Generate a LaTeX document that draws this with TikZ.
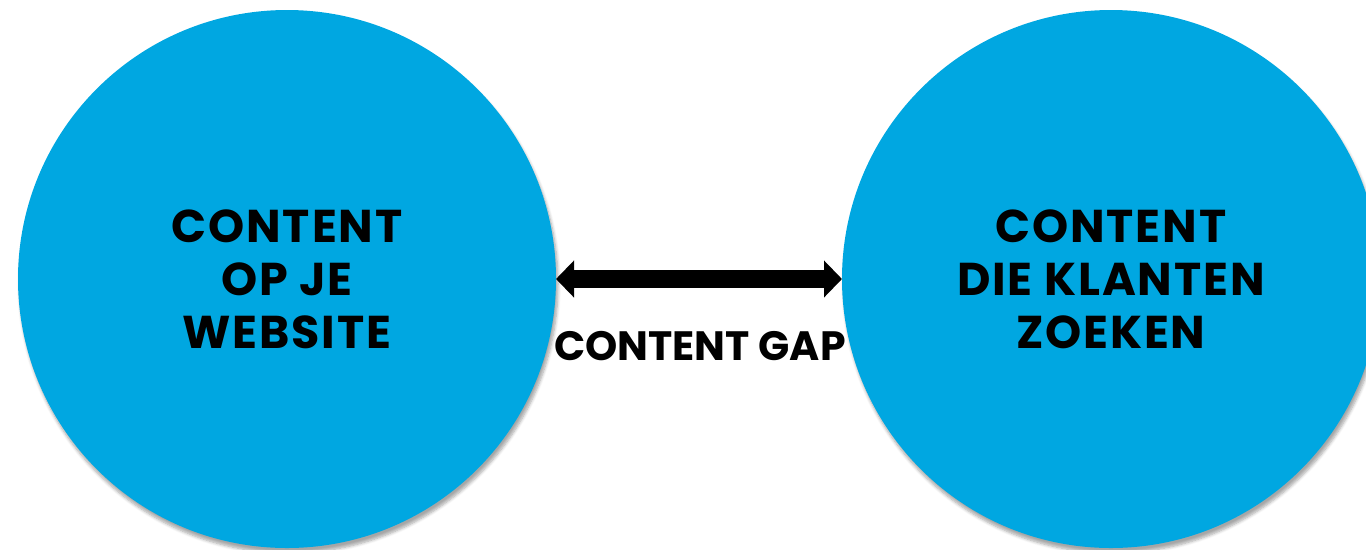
\documentclass[tikz,border=0pt]{standalone}
\usepackage{fontspec}
\newfontfamily\gapfont{Poppins}
\newfontfamily\circlefont{Poppins}[LetterSpace=4]
\usetikzlibrary{arrows.meta,shadows.blur}
\newlength{\du}
\setlength{\du}{0.02cm}
\definecolor{circlecolor}{rgb}{0.000000, 0.654902, 0.882353}
\tikzset{
  contentcircle/.style={circle, fill=circlecolor, minimum size=538\du, inner sep=0pt, outer sep=0pt,
    align=center, font=\circlefont\bfseries\fontsize{46\du}{53\du}\selectfont,
    blur shadow={shadow xshift=2\du, shadow yshift=-5\du, shadow blur steps=6, shadow opacity=35}},
  gaparrow/.style={line width=0.36cm, {Triangle[width=0.72cm,length=0.36cm]}-{Triangle[width=0.72cm,length=0.36cm]}},
  gaplabel/.style={inner sep=0pt, font=\gapfont\bfseries\fontsize{41\du}{48\du}\selectfont}
}
\begin{document}
\begin{tikzpicture}
\pgftransformyscale{-1.000000}
\useasboundingbox (0\du,0\du) rectangle (1366\du,549\du);
\clip (0\du,0\du) rectangle (1366\du,549\du);
% the two circles
\node[contentcircle] (website) at (287\du,279\du) {CONTENT\\OP JE\\WEBSITE};
\node[contentcircle] (klanten) at (1111\du,279\du) {CONTENT\\DIE KLANTEN\\ZOEKEN};
% gap between them
\draw[gaparrow] (website) -- (klanten);
\node[gaplabel] (gap) at (700\du,346\du) {CONTENT GAP};
\end{tikzpicture}
\end{document}
